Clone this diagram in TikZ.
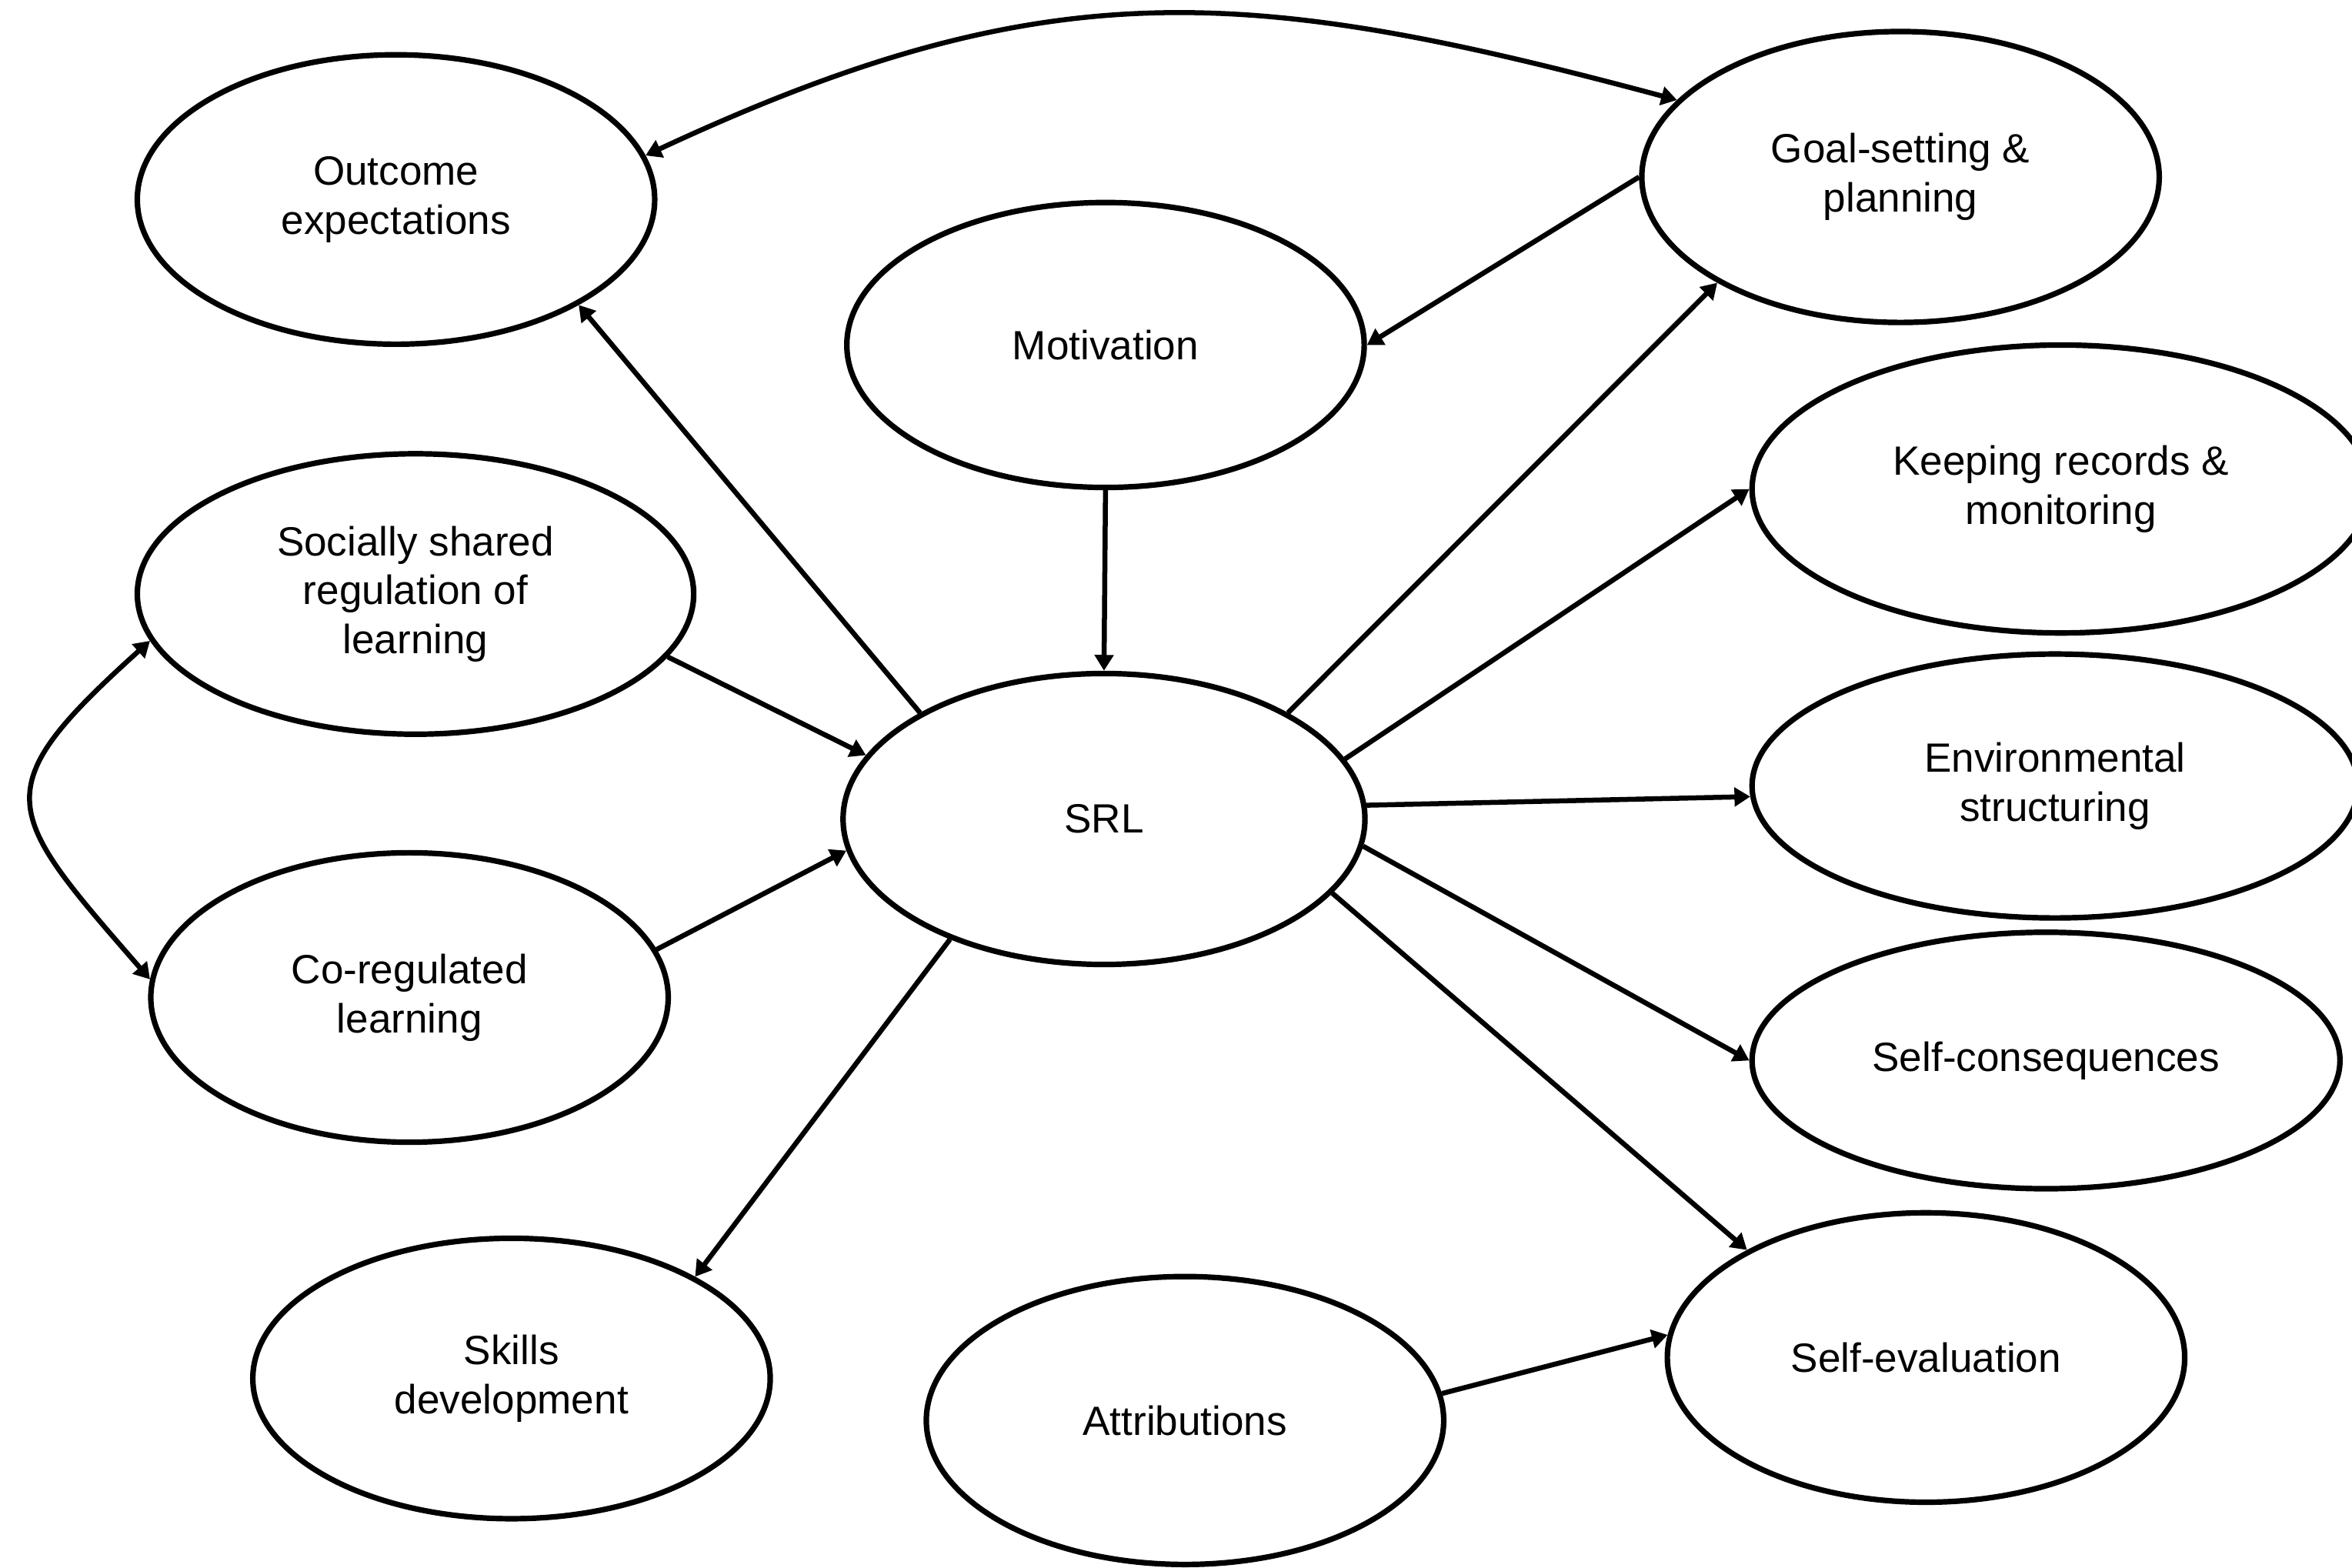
\documentclass[tikz,border=0pt]{standalone}
\usepackage{fontspec}
\setmainfont{Liberation Sans}
\usepackage{tikz}
\usetikzlibrary{shapes.geometric}
\usetikzlibrary{arrows.meta}
\tikzstyle{concept} = [ellipse, draw, line width=2.1pt, inner sep=0pt, align=center, minimum width=6.9cm, minimum height=3.86cm, font=\fontsize{15.5pt}{18.6pt}\selectfont]
\tikzstyle{link} = [line width=1.9pt, -{Triangle[length=6pt,width=7pt]}]
\tikzstyle{twoway} = [line width=1.9pt, {Triangle[length=6pt,width=7pt]}-{Triangle[length=6pt,width=7pt]}]

\begin{document}
\begin{tikzpicture}[x=0.02cm,y=0.02cm]
	\useasboundingbox (0,0) rectangle (1568,1045);
	\node[concept] (outcome) at (264,912) {Outcome\\expectations};
	\node[concept, minimum height=3.88cm] (goal) at (1267,927) {Goal-setting \&\\planning};
	\node[concept, minimum height=3.8cm] (motivation) at (737,815) {Motivation};
	\node[concept, minimum width=8.24cm, minimum height=3.84cm] (keeping) at (1374,719) {Keeping records \&\\monitoring};
	\node[concept, minimum width=7.42cm, minimum height=3.74cm] (social) at (277,649) {Socially shared\\regulation of\\learning};
	\node[concept, minimum width=6.96cm, minimum height=3.88cm] (srl) at (736,499) {SRL};
	\node[concept, minimum width=8.08cm, minimum height=3.52cm] (environ) at (1370,521) {Environmental\\structuring};
	\node[concept] (coreg) at (273,380) {Co-regulated\\learning};
	\node[concept, minimum width=7.84cm, minimum height=3.42cm] (selfcons) at (1364,338) {Self-consequences};
	\node[concept, minimum height=3.74cm] (skills) at (341,126) {Skills\\development};
	\node[concept] (selfeval) at (1284,140) {Self-evaluation};
	\node[concept, minimum height=3.84cm] (attrib) at (790,98) {Attributions};
	% curved links
	\draw[twoway] (outcome.10.6) to[out=25, in=165, looseness=1.1] (goal.161.7);
	\draw[twoway] (social.190) to[out=222, in=131, looseness=1.7] (coreg.176);
	% straight links
	\draw[link] (goal.west) -- (motivation.east);
	\draw[link] (motivation.south) -- (srl.north);
	\draw[link] (srl.150.9) -- (outcome.330.9);
	\draw[link] (social.346) -- (srl.165);
	\draw[link] (coreg.11) -- (srl.187);
	\draw[link] (srl.218) -- (skills.29);
	\draw[link] (srl.30) -- (goal.210);
	\draw[link] (srl.14.5) -- (keeping.west);
	\draw[link] (srl.3) -- (environ.182);
	\draw[link] (srl.354) -- (selfcons.west);
	\draw[link] (srl.342) -- (selfeval.149);
	\draw[link] (attrib.6) -- (selfeval.175);
\end{tikzpicture}
\end{document}
